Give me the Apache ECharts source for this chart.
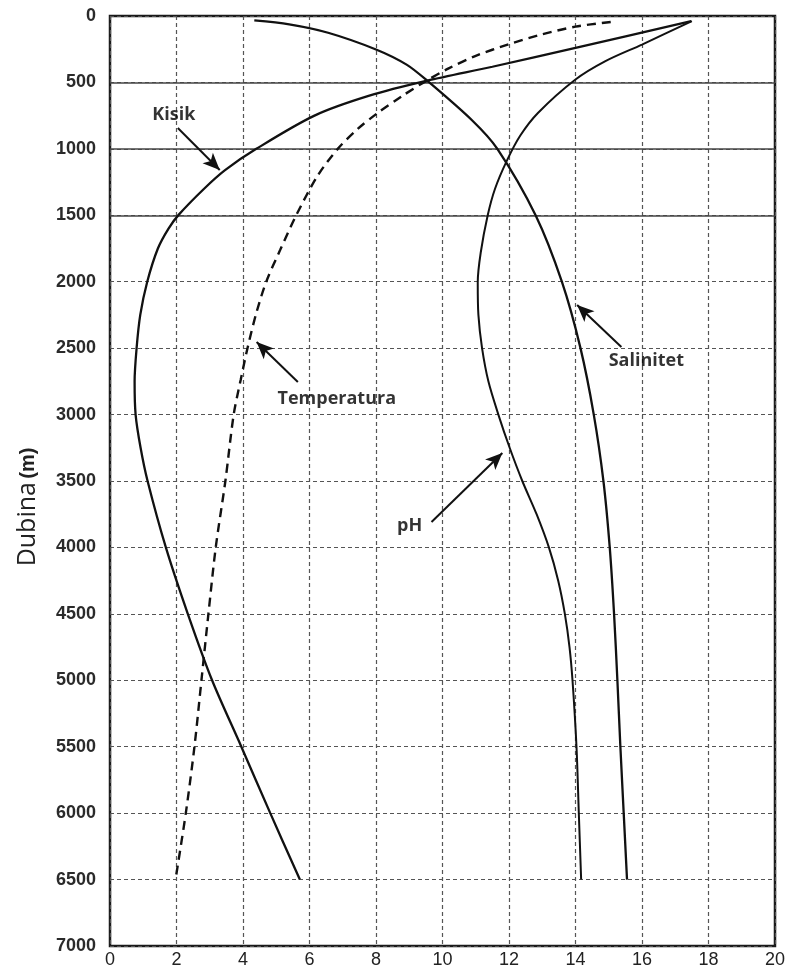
<!DOCTYPE html>
<html>
<head>
<meta charset="utf-8">
<script src="https://cdn.jsdelivr.net/npm/echarts@6/dist/echarts.min.js"></script>
<style>
html,body{margin:0;padding:0;background:#fff;}
#main{width:788px;height:971px;}
</style>
</head>
<body>
<div id="main"></div>
<script>
// x ticks / y ticks
const xTicks = [0, 2, 4, 6, 8, 10, 12, 14, 16, 18, 20];
const yTicks = [0, 500, 1000, 1500, 2000, 2500, 3000, 3500, 4000, 4500, 5000, 5500, 6000, 6500, 7000];
const solidDepths = [500, 1000, 1500];

// series: [value, depth(m)]
const kisik = [[17.48,38],[14.0,240],[11.5,382],[9.54,487],[7.8,600],[6.15,750],[4.4,1000],[3.46,1160],[2.83,1300],[2.07,1495],[1.76,1600],[1.44,1750],[1.12,2000],[0.91,2250],[0.8,2500],[0.74,2750],[0.77,3000],[0.92,3250],[1.13,3500],[1.68,4000],[2.34,4500],[3.07,5000],[3.95,5500],[4.82,6000],[5.71,6500]];
const temperatura = [[15.06,45],[14.0,80],[13.0,138],[12.0,212],[11.0,300],[10.2,392],[9.5,490],[8.8,600],[8.05,730],[7.45,850],[6.85,1000],[6.25,1200],[5.6,1500],[5.12,1760],[4.7,2000],[4.4,2236],[4.14,2495],[3.93,2739],[3.72,3000],[3.47,3500],[3.18,4000],[2.96,4500],[2.75,5000],[2.54,5500],[2.28,6000],[1.97,6500]];
const salinitet = [[4.34,33],[5.39,63],[6.56,126],[8.0,252],[8.92,366],[9.54,487],[10.88,783],[11.65,1000],[12.8,1500],[13.59,2000],[14.15,2500],[14.55,3000],[14.84,3500],[15.03,4000],[15.16,4500],[15.26,5000],[15.35,5500],[15.45,6000],[15.55,6500]];
const pH = [[17.5,38],[16.0,215],[14.9,340],[13.99,480],[12.87,730],[12.34,900],[11.93,1092],[11.58,1300],[11.36,1500],[11.15,1780],[11.06,2005],[11.08,2250],[11.19,2500],[11.38,2750],[11.68,3000],[12.02,3250],[12.4,3500],[12.83,3750],[13.2,4000],[13.48,4250],[13.68,4500],[13.82,4750],[13.91,5000],[14.03,5500],[14.1,6000],[14.17,6500]];

// annotation labels and arrows (data coordinates)
const labelNames = ['Kisik', 'Temperatura', 'Salinitet', 'pH'];
const labelPos = [[1.92,745],[6.82,2883],[16.13,2597],[9.01,3839]];
const arrowFrom = [[2.04,843],[5.65,2755],[15.38,2491],[9.67,3809]];
const arrowTo = [[3.30,1159],[4.41,2454],[14.05,2175],[11.80,3289]];

const chart = echarts.init(document.getElementById('main'), null, {renderer:'canvas'});

const dashGrid = {show:true, lineStyle:{color:'#555', width:1.2, type:[4,3]}};
const lineBase = {type:'line', symbol:'none', smooth:0.3, silent:true, z:5};

chart.setOption({
  animation:false,
  backgroundColor:'#fff',
  grid:{left:110, right:12, top:16, bottom:25, show:true, borderColor:'#1a1a1a', borderWidth:2.5, containLabel:false},
  xAxis:{
    type:'value', min:xTicks[0], max:xTicks[xTicks.length-1], interval:2,
    axisLine:{show:false}, axisTick:{show:false},
    axisLabel:{color:'#222', fontSize:18, fontFamily:'Liberation Sans', margin:5, formatter:v=>String(v)},
    splitLine:dashGrid
  },
  yAxis:{
    type:'value', inverse:true, min:yTicks[0], max:yTicks[yTicks.length-1], interval:500,
    axisLine:{show:false}, axisTick:{show:false},
    axisLabel:{color:'#2a2a2a', fontSize:18, fontWeight:'bold', fontFamily:'Liberation Sans', margin:14, formatter:v=>String(v)},
    splitLine:dashGrid
  },
  series:[
    Object.assign({}, lineBase, {name:'Kisik', data:kisik, lineStyle:{color:'#111', width:2.3},
      markLine:{silent:true, symbol:'none', label:{show:false}, lineStyle:{color:'#444', width:1.5, type:'solid'},
        data: solidDepths.map(d => ({yAxis:d}))}}),
    Object.assign({}, lineBase, {name:'Temperatura', data:temperatura, lineStyle:{color:'#111', width:2.4, type:[9,6]}}),
    Object.assign({}, lineBase, {name:'Salinitet', data:salinitet, lineStyle:{color:'#111', width:2.3}}),
    Object.assign({}, lineBase, {name:'pH', data:pH, lineStyle:{color:'#111', width:2}}),
    {
      type:'scatter', name:'labels', silent:true, z:10, symbolSize:0,
      data: labelNames.map((n,i)=>({value:[labelPos[i][0], labelPos[i][1]], name:n})),
      label:{show:true, position:'inside', formatter:p=>p.name, color:'#000', fontSize:18, fontWeight:'bold', fontFamily:'Open Sans'},
      markLine:{silent:true, symbol:['none','arrow'], symbolSize:[11,17], label:{show:false},
        lineStyle:{color:'#111', width:2, type:'solid'},
        data: arrowFrom.map((f,i)=>[{coord:f},{coord:arrowTo[i]}])}
    }
  ],
  graphic:[{
    type:'text', x:28, y:507, rotation:Math.PI/2,
    style:{
      text:'{a|Dubina} {b|(m)}', align:'center', verticalAlign:'middle',
      rich:{
        a:{fontSize:25, fontFamily:'Open Sans', fill:'#222'},
        b:{fontSize:20, fontWeight:'bold', fontFamily:'Liberation Sans', fill:'#222'}
      }
    }
  }]
});
</script>
</body>
</html>
